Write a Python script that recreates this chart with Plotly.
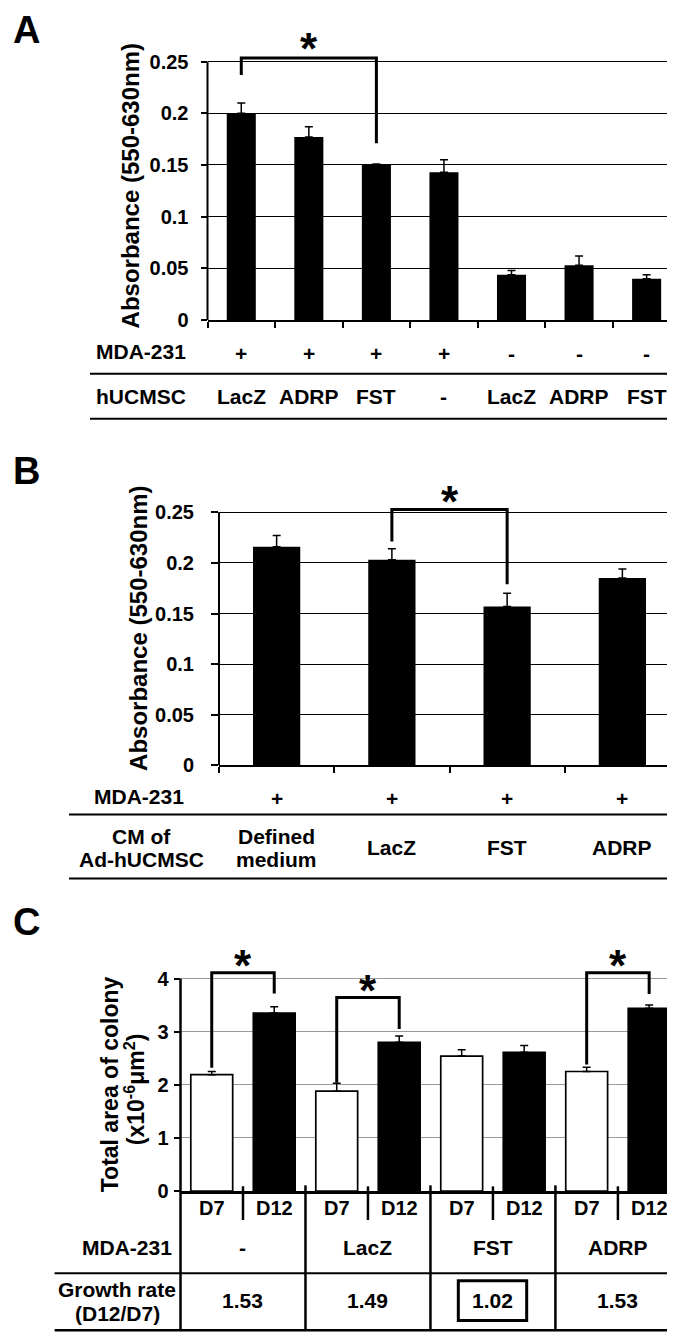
import plotly.graph_objects as go

W, H = 675, 1337
FONT = "Arial, Liberation Sans, Helvetica, sans-serif"

# Panel A - MTT absorbance of MDA-231 co-cultured with Ad-hUCMSC
a_mda = ["+", "+", "+", "+", "-", "-", "-"]
a_hucmsc = ["LacZ", "ADRP", "FST", "-", "LacZ", "ADRP", "FST"]
a_values = [0.200, 0.177, 0.150, 0.143, 0.044, 0.053, 0.040]
a_errors = [0.010, 0.010, 0.001, 0.012, 0.004, 0.009, 0.004]
a_ticks = [0, 0.05, 0.1, 0.15, 0.2, 0.25]
a_ticklabels = ["0", "0.05", "0.1", "0.15", "0.2", "0.25"]

# Panel B - conditioned medium of Ad-hUCMSC
b_mda = ["+", "+", "+", "+"]
b_cm = [["Defined", "medium"], ["LacZ"], ["FST"], ["ADRP"]]
b_values = [0.216, 0.203, 0.157, 0.185]
b_errors = [0.011, 0.011, 0.013, 0.009]
b_ticks = a_ticks
b_ticklabels = a_ticklabels

# Panel C - total colony area, day 7 vs day 12
c_groups = ["-", "LacZ", "FST", "ADRP"]
c_days = ["D7", "D12"]
c_d7 = [2.19, 1.88, 2.54, 2.25]
c_d7_err = [0.06, 0.15, 0.12, 0.08]
c_d12 = [3.35, 2.80, 2.61, 3.44]
c_d12_err = [0.12, 0.12, 0.13, 0.06]
c_growth = ["1.53", "1.49", "1.02", "1.53"]
c_ticks = [0, 1, 2, 3, 4]
c_ticklabels = ["0", "1", "2", "3", "4"]

# significance brackets: (left bar, right bar, left leg end, top, right leg end)
a_sig = [(0, 2, 0.237, 0.2535, 0.171)]
b_sig = [(1, 2, 0.221, 0.2527, 0.179)]
c_sig = [(0, 4.11, 2.32, 3.72), (1, 3.645, 2.04, 3.05), (3, 4.11, 2.38, 3.71)]


def px(x):
    return x / W


def py(y):
    return 1 - y / H


def ann(x, y, text, size=21, xref="paper", yref="paper", xanchor="center",
        yanchor="middle", angle=0, yshift=0):
    fig.add_annotation(x=x, y=y, text=text, xref=xref, yref=yref, showarrow=False,
                       xanchor=xanchor, yanchor=yanchor, textangle=angle, yshift=yshift,
                       font=dict(family=FONT, size=size, color="black", weight="bold"))


def hline(x0, x1, y, width=2):
    fig.add_shape(type="line", xref="paper", yref="paper", x0=px(x0), x1=px(x1),
                  y0=py(y), y1=py(y), line=dict(color="black", width=width))


def bracket(xr, yr, x0, x1, yl, top, yrt):
    fig.add_shape(type="path", xref=xr, yref=yr,
                  path=f"M {x0},{yl} L {x0},{top} L {x1},{top} L {x1},{yrt}",
                  line=dict(color="black", width=3))


err_style = dict(type="data", symmetric=False, color="black", thickness=1.5, width=4)

fig = go.Figure()

# ---- bars
fig.add_trace(go.Bar(x=list(range(len(a_values))), y=a_values, width=0.43,
                     marker=dict(color="black", line_width=0),
                     error_y=dict(array=a_errors, arrayminus=[0] * len(a_errors), **err_style),
                     xaxis="x", yaxis="y", showlegend=False))
fig.add_trace(go.Bar(x=list(range(len(b_values))), y=b_values, width=0.41,
                     marker=dict(color="black", line_width=0),
                     error_y=dict(array=b_errors, arrayminus=[0] * len(b_errors), **err_style),
                     xaxis="x2", yaxis="y2", showlegend=False))
c_x = list(range(len(c_groups)))
fig.add_trace(go.Bar(x=c_x, y=c_d7, name=c_days[0],
                     marker=dict(color="white", line=dict(color="black", width=1.7)),
                     error_y=dict(array=c_d7_err, arrayminus=[0] * len(c_d7_err), **err_style),
                     xaxis="x3", yaxis="y3", showlegend=False))
fig.add_trace(go.Bar(x=c_x, y=c_d12, name=c_days[1],
                     marker=dict(color="black", line=dict(color="black", width=1.7)),
                     error_y=dict(array=c_d12_err, arrayminus=[0] * len(c_d12_err), **err_style),
                     xaxis="x3", yaxis="y3", showlegend=False))

tickfont = dict(family=FONT, size=20, color="black", weight="bold")
common_x = dict(showline=True, linecolor="black", showgrid=False, zeroline=False,
                showticklabels=False, fixedrange=True)
common_y = dict(showline=False, zeroline=False, tickmode="array", ticks="outside",
                tickcolor="black", tickwidth=2, tickfont=tickfont, fixedrange=True)

fig.update_layout(
    width=W, height=H, margin=dict(l=0, r=0, t=0, b=0),
    paper_bgcolor="white", plot_bgcolor="white",
    barmode="group", bargap=0, bargroupgap=0.33,
    xaxis=dict(domain=[px(199.5), px(672.4)], range=[-0.5, len(a_values) - 0.5],
               tickmode="array", tickvals=[i - 0.5 for i in range(len(a_values) + 1)],
               ticks="outside", ticklen=6, tickwidth=2, tickcolor="black", linewidth=2,
               anchor="y", **common_x),
    yaxis=dict(domain=[py(314), py(314 - 0.26 * 1044)], range=[0, 0.26],
               tickvals=a_ticks, ticktext=a_ticklabels, ticklen=6, ticklabelstandoff=8,
               showgrid=True, gridcolor="black", gridwidth=1.3, anchor="x", **common_y),
    xaxis2=dict(domain=[px(211), px(672)], range=[-0.5, len(b_values) - 0.5],
                tickmode="array", tickvals=[i - 0.5 for i in range(len(b_values) + 1)],
                ticks="outside", ticklen=6, tickwidth=2, tickcolor="black", linewidth=2,
                anchor="y2", **common_x),
    yaxis2=dict(domain=[py(763.3), py(763.3 - 0.26 * 1022)], range=[0, 0.26],
                tickvals=b_ticks, ticktext=b_ticklabels, ticklen=7, ticklabelstandoff=13,
                showgrid=True, gridcolor="black", gridwidth=1.3, anchor="x2", **common_y),
    xaxis3=dict(domain=[px(172.5), px(672.4)], range=[-0.5, len(c_groups) - 0.5],
                ticks="", linewidth=3, anchor="y3", **common_x),
    yaxis3=dict(domain=[py(1192.7), py(1192.7 - 4.2 * 53.6)], range=[0, 4.2],
                tickvals=c_ticks, ticktext=c_ticklabels, ticklen=6, ticklabelstandoff=1,
                showgrid=True, gridcolor="#9a9a9a", gridwidth=1, anchor="x3", **common_y),
)

# y axis lines stop at the top tick
fig.add_shape(type="line", xref="x domain", yref="y", x0=0, x1=0, y0=0, y1=a_ticks[-1],
              line=dict(color="black", width=2))
fig.add_shape(type="line", xref="x2 domain", yref="y2", x0=0, x1=0, y0=0, y1=b_ticks[-1],
              line=dict(color="black", width=2))
fig.add_shape(type="line", xref="x3 domain", yref="y3", x0=0, x1=0, y0=0, y1=c_ticks[-1],
              line=dict(color="black", width=2.5))

# ---- significance brackets and asterisks
for l, r, yl, top, yrt in a_sig:
    bracket("x", "y", l, r, yl, top, yrt)
    ann((l + r) / 2, top, "*", size=44, xref="x", yref="y", yshift=9)
for l, r, yl, top, yrt in b_sig:
    bracket("x2", "y2", l, r, yl, top, yrt)
    ann((l + r) / 2, top, "*", size=44, xref="x2", yref="y2", yshift=8)
for g, top, yl, yrt in c_sig:
    bracket("x3", "y3", g - 0.25, g + 0.25, yl, top, yrt)
    ann(g, top, "*", size=44, xref="x3", yref="y3", yshift=7)

# ---- panel letters and axis titles
ann(px(3), py(21.5), "A", size=38, xanchor="left")
ann(px(3), py(466.5), "B", size=38, xanchor="left")
ann(px(3), py(921), "C", size=38, xanchor="left")
ann(px(122), py(178), "Absorbance (550-630nm)", size=24, angle=-90)
ann(px(131), py(625.5), "Absorbance (550-630nm)", size=24, angle=-90)
ann(px(102), py(1085), "Total area of colony", size=23, angle=-90)
ann(px(127), py(1090), "(x10<sup>-6</sup>μm<sup>2</sup>)", size=23, angle=-90)

# ---- table A
ann(px(86.4), py(346), "MDA-231", xanchor="left")
ann(px(86.4), py(391), "hUCMSC", xanchor="left")
for i, s in enumerate(a_mda):
    ann(i, py(348), s, xref="x")
for i, s in enumerate(a_hucmsc):
    ann(i, py(391), s, xref="x")
hline(82, 672.4, 368)
hline(82, 672.4, 413.5)

# ---- table B
ann(px(131), py(795), "MDA-231")
ann(px(133), py(834.5), "CM of")
ann(px(133), py(858), "Ad-hUCMSC")
for i, s in enumerate(b_mda):
    ann(i, py(797), s, xref="x2")
for i, lines in enumerate(b_cm):
    if len(lines) == 1:
        ann(i, py(846.5), lines[0], xref="x2")
    else:
        ann(i, py(834.5), lines[0], xref="x2")
        ann(i, py(858), lines[1], xref="x2")
hline(61, 672.4, 812.7)
hline(61, 672.4, 877.5)

# ---- table C
n = len(c_groups)
for k in range(n + 1):
    y_top = 1192.7 if k == 0 else 1187
    fig.add_shape(type="line", xref="x3 domain", yref="paper", x0=k / n, x1=k / n,
                  y0=py(y_top), y1=py(1333.5), line=dict(color="black", width=2.5))
for i in range(n):
    fig.add_shape(type="line", xref="x3", yref="paper", x0=i, x1=i,
                  y0=py(1188), y1=py(1222), line=dict(color="black", width=2.5))
    ann(i - 0.25, py(1210), c_days[0], size=20, xref="x3")
    ann(i + 0.25, py(1210), c_days[1], size=20, xref="x3")
    ann(i, py(1249.3), c_groups[i], xref="x3")
    ann(i, py(1302.7), c_growth[i], xref="x3")
ann(px(166), py(1249.3), "MDA-231", xanchor="right")
ann(px(109), py(1291.7), "Growth rate")
ann(px(109), py(1316.7), "(D12/D7)")
hline(46.6, 672.4, 1275.7)
hline(46.6, 672.4, 1333.3, width=2.5)

# box around the FST growth rate
f = c_groups.index("FST")
fig.add_shape(type="rect", xref="x3", yref="paper", x0=f - 0.277, x1=f + 0.27,
              y0=py(1323.3), y1=py(1283.3), line=dict(color="black", width=3))

fig.write_html("out.html")
